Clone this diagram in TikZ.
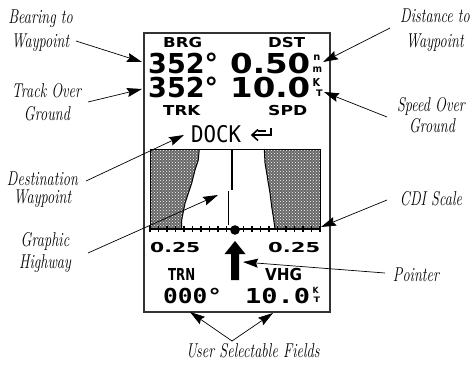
\documentclass[tikz,border=0pt]{standalone}
\usepackage{fontspec}
\usepackage{graphicx}
\usetikzlibrary{arrows.meta,patterns}
\newfontfamily\scrfont{DejaVu Sans}
\newfontfamily\scrmono{DejaVu Sans Mono}
\newcommand{\sx}[2]{\resizebox{#1}{\height}{#2}}
% width, font size, text
\newcommand{\scrb}[3]{\sx{#1}{\fontsize{#2}{#2}\selectfont\scrfont\bfseries #3}}
\newcommand{\scrm}[3]{\sx{#1}{\fontsize{#2}{#2}\selectfont\scrmono\bfseries #3}}
\newcommand{\scrr}[3]{\sx{#1}{\fontsize{#2}{#2}\selectfont\scrmono #3}}
\newcommand{\lbl}[1]{\scalebox{0.72}[1]{#1}}
\tikzset{
  lab/.style={anchor=base, inner sep=0pt, font=\fontsize{20}{24}\selectfont\itshape},
  scr/.style={anchor=base west, inner sep=0pt},
  unit/.style={anchor=south west, inner sep=0pt},
  call/.style={line width=0.7pt, -{Stealth[length=15pt,width=9pt,inset=2pt]}},
}
\newcommand{\hwy}{(199.3,149) -- (264.3,149) -- (265,163) -- (266.7,173) -- (268.3,183) -- (270,193) -- (271.7,206.7) -- (273.3,216.7) -- (275,229)
  -- (181.7,229) -- (181.7,220) -- (183.3,211.7) -- (185,203.3) -- (188.3,193.3) -- (191.7,183.3) -- (193.3,176.7) -- (195,170) -- (198.3,160) -- cycle}
\begin{document}
\begin{tikzpicture}[x=1pt,y=-1pt]
\useasboundingbox (0,0) rectangle (474,365);
% screen frame
\draw[black!80, line width=1.3pt] (144,33) rectangle (330,312);
% top readouts
\node[scr] (brg) at (163,47) {\scrb{39pt}{13.7}{BRG}};
\node[scr] (dst) at (268,47) {\scrb{37pt}{13.7}{DST}};
\node[scr] (brgv) at (148,73) {\scrb{70pt}{27.4}{352°}};
\node[scr] (dstv) at (230,73) {\scrb{80pt}{27.4}{0.50}};
\node[unit] (unm) at (312.5,73) {\shortstack[l]{\hspace{0.6pt}\scrb{7pt}{10}{n}\\[4pt]\scrb{9.5pt}{10}{m}}};
\node[scr] (trkv) at (148,97) {\scrb{70pt}{27.4}{352°}};
\node[scr] (spdv) at (230,97) {\scrb{80pt}{27.4}{10.0}};
\node[unit] (ukt) at (312.5,97) {\shortstack[l]{\scrb{7.5pt}{11}{K}\\[1pt]\hspace{3.5pt}\scrb{6.5pt}{9}{T}}};
\node[scr] (trk) at (163,115) {\scrb{37pt}{13.7}{TRK}};
\node[scr] (spd) at (268,115) {\scrb{39pt}{13.7}{SPD}};
\node[scr] (dock) at (191,142) {\scrr{50pt}{23}{DOCK}};
% dock icon
\draw[line width=1.6pt, line join=miter] (258,129.5) -- (252,135) -- (258,140.5);
\draw[line width=1.6pt] (253,135) -- (271,135) -- (271,128);
\draw[line width=1.2pt] (258,131) -- (266,131);
% graphic highway
\fill[black!60, even odd rule] (150,149) rectangle (320,229) \hwy;
\path[pattern=crosshatch dots, pattern color=white, even odd rule] (150,149) rectangle (320,229) \hwy;
\draw[line width=1pt] (150,229) -- (150,149) -- (320,149) -- (320,229);
\draw[line width=1pt] (199.3,149) -- (198.3,160) -- (195,170) -- (193.3,176.7) -- (191.7,183.3) -- (188.3,193.3) -- (185,203.3) -- (183.3,211.7) -- (181.7,220) -- (181.7,229);
\draw[line width=1pt] (264.3,149) -- (265,163) -- (266.7,173) -- (268.3,183) -- (270,193) -- (271.7,206.7) -- (273.3,216.7) -- (275,229);
% course line
\draw[line width=1.5pt] (232,149) -- (232,190);
\draw[line width=1.5pt] (228.5,191) -- (228.5,225);
% CDI scale
\draw[line width=1.6pt] (150,229) -- (320,229);
\foreach \k in {0,...,20} { \draw[line width=1.2pt] ({150+8.5*\k},226) -- ({150+8.5*\k},232); }
\fill (235,230) circle (4.8);
\node[scr] (sl) at (150,252) {\scrb{50pt}{13.7}{0.25}};
\node[scr] (sr) at (268,252) {\scrb{52pt}{13.7}{0.25}};
% pointer
\fill (235,241) -- (245.5,254) -- (239,254) -- (239,280) -- (231,280) -- (231,254) -- (224.5,254) -- cycle;
% bottom fields
\node[scr] (trn) at (168,280) {\scrb{27pt}{16.5}{TRN}};
\node[scr] (vhg) at (265,280) {\scrb{37pt}{16.5}{VHG}};
\node[scr] (trnv) at (163,303) {\scrm{59pt}{20.6}{000°}};
\node[scr] (vhgv) at (245,303) {\scrm{65pt}{20.6}{10.0}};
\node[unit] (ukt2) at (312.5,302.5) {\shortstack[l]{\scrb{6pt}{8.5}{K}\\[0.5pt]\hspace{1pt}\scrb{6.5pt}{7.5}{T}}};
% labels
\node[lab] (l1a) at (40.5,23) {\lbl{Bearing to}};
\node[lab] (l1b) at (40.5,47) {\lbl{Waypoint}};
\node[lab] (l2a) at (46.5,97) {\lbl{Track Over}};
\node[lab] (l2b) at (47,120) {\lbl{Ground}};
\node[lab] (l3a) at (42.5,185) {\lbl{Destination}};
\node[lab] (l3b) at (42.5,203) {\lbl{Waypoint}};
\node[lab] (l4a) at (45,246) {\lbl{Graphic}};
\node[lab] (l4b) at (45,268) {\lbl{Highway}};
\node[lab] (r1a) at (435,22) {\lbl{Distance to}};
\node[lab] (r1b) at (435,47) {\lbl{Waypoint}};
\node[lab] (r2a) at (431,111) {\lbl{Speed Over}};
\node[lab] (r2b) at (432,132) {\lbl{Ground}};
\node[lab] (r3) at (431,205) {\lbl{CDI Scale}};
\node[lab] (r4) at (416,281) {\lbl{Pointer}};
\node[lab] (b1) at (253,357) {\lbl{User Selectable Fields}};
% callout coordinates
\coordinate (s1) at (76,41);   \coordinate (t1) at (142,62);
\coordinate (s2) at (88,102);  \coordinate (t2) at (142,89);
\coordinate (s3) at (86,181);  \coordinate (t3) at (184,135);
\coordinate (s4) at (88,253);  \coordinate (t4) at (218,195);
\coordinate (s5) at (390,28);  \coordinate (t5) at (323,62);
\coordinate (s6) at (387,117); \coordinate (t6) at (324,92);
\coordinate (s7) at (387,200); \coordinate (t7) at (321,227);
\coordinate (s8) at (385,273); \coordinate (t8) at (243,262);
\coordinate (ap) at (232,341); \coordinate (u1) at (190,312); \coordinate (u2) at (273,313);
\draw[call] (s1) -- (t1);
\draw[call] (s2) -- (t2);
\draw[call] (s3) -- (t3);
\draw[call] (s4) -- (t4);
\draw[call] (s5) -- (t5);
\draw[call] (s6) -- (t6);
\draw[call] (s7) -- (t7);
\draw[call] (s8) -- (t8);
\draw[call] (ap) -- (u1);
\draw[call] (ap) -- (u2);
\end{tikzpicture}
\end{document}
